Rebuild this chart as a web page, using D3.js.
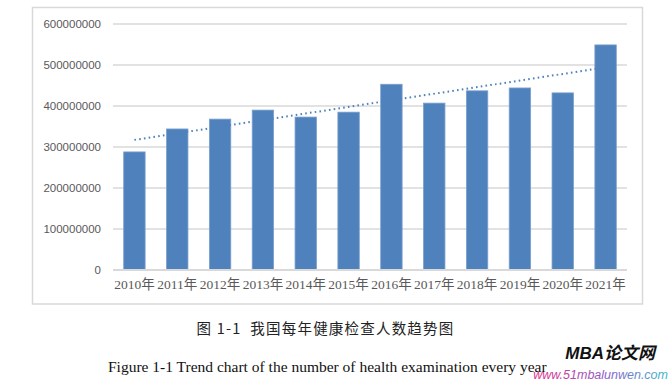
<!DOCTYPE html>
<html><head><meta charset="utf-8">
<script src="https://cdn.jsdelivr.net/npm/d3@7/dist/d3.min.js"></script>
<style>body{margin:0;background:#fff}svg{display:block}</style>
</head><body>
<svg id="c" width="671" height="381"></svg>
<script>
const categories = ["2010年","2011年","2012年","2013年","2014年","2015年","2016年","2017年","2018年","2019年","2020年","2021年"];
const values = [288000000,344000000,368000000,390000000,373000000,385000000,453000000,407000000,437000000,444000000,432000000,549000000];
const yTicks = [0,100000000,200000000,300000000,400000000,500000000,600000000];
const captionCN = "图 1-1  我国每年健康检查人数趋势图";
const captionEN = "Figure 1-1 Trend chart of the number of health examination every year";

const svg = d3.select("#c");
svg.append("rect").attr("x",32.5).attr("y",7.5).attr("width",610).attr("height",296.5)
  .attr("fill","#fff").attr("stroke","#d9d9d9").attr("stroke-width",1.5);

const x = d3.scaleBand().domain(categories).range([113,627]).paddingInner(0.5).paddingOuter(0.25);
const y = d3.scaleLinear().domain([0,600000000]).range([270,24]);

const g = svg.append("g");
g.selectAll("line.grid").data(yTicks.slice(1)).join("line")
  .attr("x1",113).attr("x2",627).attr("y1",d=>y(d)).attr("y2",d=>y(d))
  .attr("stroke","#d9d9d9").attr("stroke-width",1.5);

const yAxis = d3.axisLeft(y).tickValues(yTicks).tickSize(0).tickPadding(0).tickFormat(d=>String(d));
const ya = svg.append("g").attr("transform","translate(101,0)").call(yAxis);
ya.select(".domain").remove();
ya.selectAll("text").attr("fill","#595959").style("font-family","'Liberation Sans', Arial, sans-serif").style("font-size","11.5px");

g.selectAll("rect.bar").data(values).join("rect")
  .attr("x",(d,i)=>x(categories[i])).attr("width",x.bandwidth())
  .attr("y",d=>y(d)).attr("height",d=>y(0)-y(d))
  .attr("fill","#4f81bd").attr("stroke","#7ba0cd").attr("stroke-width",0.8);

g.append("line").attr("x1",113).attr("x2",627).attr("y1",y(0)).attr("y2",y(0))
  .attr("stroke","#d9d9d9").attr("stroke-width",2);

const xAxis = d3.axisBottom(x).tickSize(0).tickPadding(9);
const xa = svg.append("g").attr("transform",`translate(0,${y(0)})`).call(xAxis);
xa.select(".domain").remove();
xa.selectAll("text").attr("fill","#595959").style("font-family","'Liberation Serif','Noto Sans CJK SC',serif").style("font-size","13.5px");

const n = values.length;
const mx = d3.mean(d3.range(n)), my = d3.mean(values);
const slope = d3.sum(values,(v,i)=>(i-mx)*(v-my)) / d3.sum(d3.range(n),i=>(i-mx)*(i-mx));
const icpt = my - slope*mx;
const cx = i => x(categories[i]) + x.bandwidth()/2;
svg.append("line").attr("x1",cx(0)).attr("x2",cx(n-1))
  .attr("y1",y(icpt)).attr("y2",y(icpt+slope*(n-1)))
  .attr("stroke","#4f81bd").attr("stroke-width",2).attr("stroke-dasharray","1.6,3.2");

svg.append("text").attr("x",325.5).attr("y",333.5).attr("text-anchor","middle")
  .style("font-family","'Noto Sans CJK SC',sans-serif").style("font-size","14.5px").style("letter-spacing","1.2px").attr("fill","#222")
  .attr("xml:space","preserve").style("white-space","pre").text(captionCN);
svg.append("text").attr("x",108).attr("y",372)
  .style("font-family","'Liberation Serif','Times New Roman',serif").style("font-size","15.5px").attr("fill","#111")
  .text(captionEN);

const defs = svg.append("defs");
const lg = defs.append("linearGradient").attr("id","wm");
lg.append("stop").attr("offset","0%").attr("stop-color","#e0338a");
lg.append("stop").attr("offset","55%").attr("stop-color","#8a5fc9");
lg.append("stop").attr("offset","100%").attr("stop-color","#3fb9c9");
svg.append("text").attr("x",655).attr("y",359).attr("text-anchor","end")
  .style("font-family","'Liberation Sans','Noto Sans CJK SC',sans-serif").style("font-size","17px")
  .style("font-weight","bold").style("font-style","italic").attr("fill","#111").text("MBA论文网");
svg.append("text").attr("x",668).attr("y",379).attr("text-anchor","end")
  .style("font-family","'Liberation Sans',sans-serif").style("font-size","12.5px")
  .style("font-style","italic").attr("fill","url(#wm)").text("www.51mbalunwen.com");
</script>
</body></html>
